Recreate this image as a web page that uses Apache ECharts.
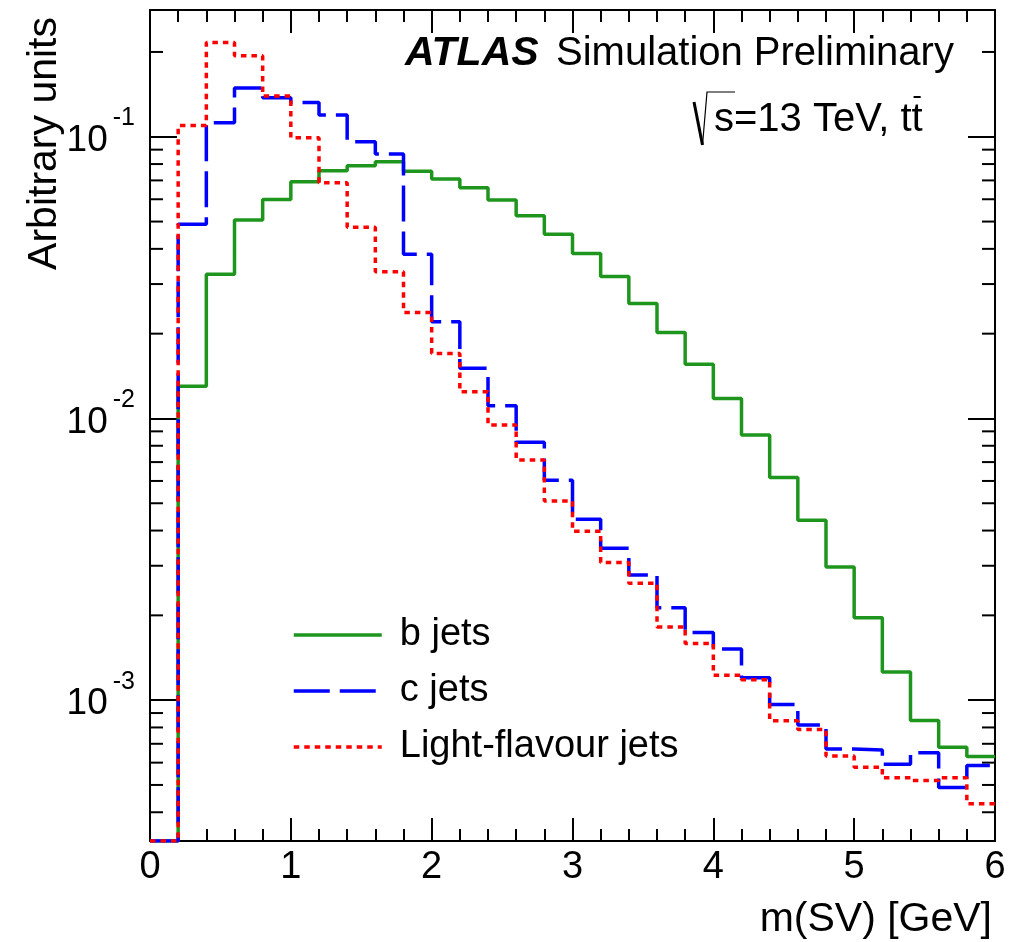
<!DOCTYPE html>
<html>
<head>
  <meta charset="UTF-8">
  <title>m(SV) b / c / light jets</title>
  <style>
    html, body { margin: 0; padding: 0; background: #fff; }
    #chart { width: 1026px; height: 942px; }
  </style>
</head>
<body>
  <div id="chart"></div>
  <script src="https://cdn.jsdelivr.net/npm/echarts@6/dist/echarts.min.js"></script>
  <script>
    // bin low edges [GeV], bin width 0.2, last edge 6
    const binEdges = [0, 0.2, 0.4, 0.6, 0.8, 1.0, 1.2, 1.4, 1.6, 1.8, 2.0, 2.2, 2.4, 2.6, 2.8,
      3.0, 3.2, 3.4, 3.6, 3.8, 4.0, 4.2, 4.4, 4.6, 4.8, 5.0, 5.2, 5.4, 5.6, 5.8, 6.0];

    const bJets = [0, 0.0130, 0.0325, 0.0506, 0.0599, 0.0692, 0.0757, 0.0789, 0.0815, 0.0755,
      0.0708, 0.0659, 0.0596, 0.0524, 0.0451, 0.0385, 0.0319, 0.0256, 0.0202, 0.01556,
      0.01178, 0.00873, 0.00617, 0.00435, 0.00297, 0.00196, 0.00126, 0.000847, 0.000681, 0.000631];

    const cJets = [0, 0.0489, 0.1121, 0.149, 0.1375, 0.1324, 0.1194, 0.096, 0.0868, 0.0383,
      0.02204, 0.01506, 0.01109, 0.00823, 0.00604, 0.00439, 0.00346, 0.00278, 0.00213, 0.00174,
      0.00152, 0.0012, 0.000966, 0.000816, 0.000671, 0.000665, 0.000592, 0.00065, 0.00049, 0.000586];

    const lightJets = [0, 0.1097, 0.2163, 0.1938, 0.1394, 0.0992, 0.0687, 0.0477, 0.0332, 0.0238,
      0.0170, 0.01245, 0.00948, 0.00712, 0.00509, 0.00398, 0.00308, 0.0026, 0.00182, 0.00159,
      0.001227, 0.001182, 0.000845, 0.000787, 0.000633, 0.000578, 0.00053, 0.000519, 0.00053, 0.000429];

    const seriesNames = ['b jets', 'c jets', 'Light-flavour jets'];

    // axis range
    const X_MIN = 0, X_MAX = 6;
    const Y_MIN = Math.pow(10, -3.5);
    const Y_MAX = Math.pow(10, -0.55);

    const FONT = 'Liberation Sans, Arial, Helvetica, sans-serif';

    // histogram -> step line points (empty bins sit on the bottom of the frame)
    function histPoints(vals) {
      const pts = vals.map((v, i) => [binEdges[i], v > 0 ? v : Y_MIN]);
      pts.push([binEdges[vals.length], pts[pts.length - 1][1]]);
      return pts;
    }

    function xAxisCfg(pos, labels) {
      return {
        type: 'value', position: pos, min: X_MIN, max: X_MAX, interval: 1,
        axisLine: { show: true, onZero: false, lineStyle: { color: '#000', width: 2 } },
        axisTick: { show: true, inside: true, length: 23, lineStyle: { color: '#000', width: 2 } },
        minorTick: { show: true, splitNumber: 5, length: 12, lineStyle: { color: '#000', width: 2 } },
        axisLabel: {
          show: labels, color: '#000', fontSize: 38, fontFamily: FONT, margin: 8
        },
        splitLine: { show: false }
      };
    }

    function yAxisCfg(pos, labels) {
      return {
        type: 'log', logBase: 10, position: pos, min: Y_MIN, max: Y_MAX,
        axisLine: { show: true, onZero: false, lineStyle: { color: '#000', width: 2 } },
        axisTick: { show: true, inside: true, length: 27, lineStyle: { color: '#000', width: 2 } },
        axisLabel: {
          show: labels, margin: 15,
          formatter: function (v) {
            const l = Math.log10(v);
            const e = Math.round(l);
            if (Math.abs(l - e) > 1e-6) return '';
            return '{b|10}{s|' + e + '}';
          },
          rich: {
            b: { fontSize: 37, fontFamily: FONT, color: '#000', padding: [8, 0, 0, 0] },
            s: { fontSize: 25, fontFamily: FONT, color: '#000', padding: [0, 0, 37, 5] }
          }
        },
        splitLine: { show: false }
      };
    }

    const chart = echarts.init(document.getElementById('chart'));

    const option = {
      animation: false,
      backgroundColor: '#fff',
      grid: { left: 150, right: 31, top: 10, bottom: 101 },
      xAxis: [xAxisCfg('bottom', true), xAxisCfg('top', false)],
      yAxis: [yAxisCfg('left', true), yAxisCfg('right', false)],
      legend: {
        orient: 'vertical', left: 292, top: 616, padding: 0,
        itemWidth: 88, itemHeight: 14, itemGap: 18,
        itemStyle: { opacity: 0 },
        lineStyle: { width: 3.5 },
        textStyle: { fontSize: 38, fontFamily: FONT, color: '#000', padding: [0, 0, 0, 13] },
        data: seriesNames
      },
      series: [
        {
          name: seriesNames[0], type: 'line', step: 'end', symbol: 'none',
          color: '#1e961e',
          lineStyle: { color: '#1e961e', width: 3.5, type: 'solid' },
          data: histPoints(bJets)
        },
        {
          name: seriesNames[1], type: 'line', step: 'end', symbol: 'none',
          color: '#0000ff',
          lineStyle: { color: '#0000ff', width: 3.5, type: [36, 10] },
          data: histPoints(cJets)
        },
        {
          name: seriesNames[2], type: 'line', step: 'end', symbol: 'none',
          color: '#ff0000',
          lineStyle: { color: '#ff0000', width: 3.5, type: [5.5, 5] },
          data: histPoints(lightJets)
        }
      ]
    };
    chart.setOption(option);

    // log minor ticks (2..9 x 10^n) on left and right frame edges
    const graphics = [];
    const xl = chart.convertToPixel({ xAxisIndex: 0 }, X_MIN);
    const xr = chart.convertToPixel({ xAxisIndex: 0 }, X_MAX);
    for (let n = -4; n <= -1; n++) {
      for (let k = 2; k <= 9; k++) {
        const v = k * Math.pow(10, n);
        if (v <= Y_MIN || v >= Y_MAX) continue;
        const y = chart.convertToPixel({ yAxisIndex: 0 }, v);
        graphics.push({ type: 'line', shape: { x1: xl, y1: y, x2: xl + 13, y2: y }, style: { stroke: '#000', lineWidth: 2 } });
        graphics.push({ type: 'line', shape: { x1: xr - 13, y1: y, x2: xr, y2: y }, style: { stroke: '#000', lineWidth: 2 } });
      }
    }

    // axis titles
    graphics.push({
      type: 'text', x: 45, y: 17, rotation: Math.PI / 2,
      style: { text: 'Arbitrary units', font: '41px ' + FONT, fill: '#000', align: 'right', verticalAlign: 'middle' }
    });
    graphics.push({
      type: 'text', x: 992, y: 920,
      style: { text: 'm(SV) [GeV]', font: '41px ' + FONT, fill: '#000', align: 'right', verticalAlign: 'middle' }
    });

    // ATLAS label
    graphics.push({
      type: 'text', x: 405, y: 54,
      style: { text: 'ATLAS', font: 'italic bold 41px ' + FONT, fill: '#000', align: 'left', verticalAlign: 'middle' }
    });
    graphics.push({
      type: 'text', x: 556, y: 54,
      style: { text: 'Simulation Preliminary', font: '40px ' + FONT, fill: '#000', align: 'left', verticalAlign: 'middle' }
    });

    // sqrt(s)=13 TeV, ttbar
    const lineFont = '40px ' + FONT;
    const txt2 = 's=13 TeV, tt';
    const ctx = document.createElement('canvas').getContext('2d');
    ctx.font = lineFont;
    const x2 = 714;
    const wAll = ctx.measureText(txt2).width;
    const wT = ctx.measureText('t').width;
    graphics.push({ type: 'line', shape: { x1: 694, y1: 102, x2: 702.5, y2: 145 }, style: { stroke: '#000', lineWidth: 3 } });
    graphics.push({ type: 'polyline', shape: { points: [[702.5, 145], [707, 92], [735, 92]] }, style: { stroke: '#000', lineWidth: 1.2, fill: null } });
    graphics.push({
      type: 'text', x: x2, y: 120,
      style: { text: txt2, font: lineFont, fill: '#000', align: 'left', verticalAlign: 'middle' }
    });
    graphics.push({
      type: 'line',
      shape: { x1: x2 + wAll - wT + 2, y1: 97, x2: x2 + wAll - 2, y2: 97 },
      style: { stroke: '#000', lineWidth: 2 }
    });

    chart.setOption({ graphic: graphics });
  </script>
</body>
</html>
